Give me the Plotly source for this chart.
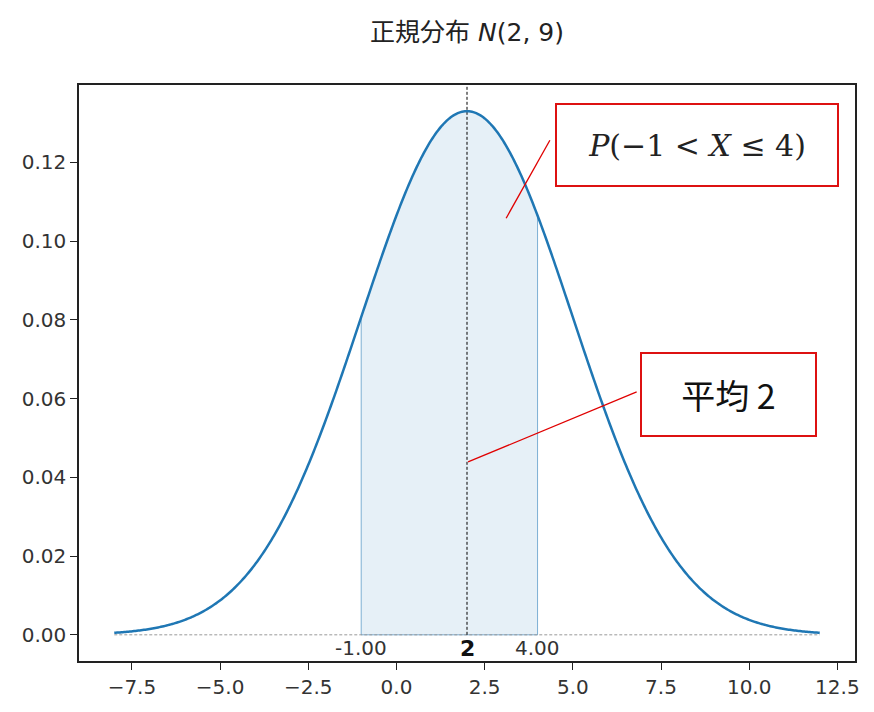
import numpy as np
import plotly.graph_objects as go

# distribution parameters (from title N(2, 9))
mu = 2.0
variance = 9.0
x_start, x_end = -8.0, 12.0
a_low, b_high = -1.0, 4.0
x_ticks = [-7.5, -5.0, -2.5, 0.0, 2.5, 5.0, 7.5, 10.0, 12.5]
y_ticks = [0.00, 0.02, 0.04, 0.06, 0.08, 0.10, 0.12]
bound_labels = ["-1.00", "4.00"]
mean_label = "2"
title_text = "正規分布 <i>N</i>(2, 9)"
prob_text = "<i>P</i>(−1 &lt; <i>X</i> ≤ 4)"
mean_text = "平均 2"

sigma = np.sqrt(variance)


def pdf(x):
    return np.exp(-(x - mu) ** 2 / (2 * variance)) / (sigma * np.sqrt(2 * np.pi))


x = np.linspace(x_start, x_end, 500)
y = pdf(x)
xf = np.linspace(a_low, b_high, 200)
yf = pdf(xf)

ymax = y.max()
yr = [-0.05 * ymax, 1.05 * ymax]
xr = [x_start - 0.05 * (x_end - x_start), x_end + 0.05 * (x_end - x_start)]

fig = go.Figure()
fig.add_trace(go.Scatter(
    x=np.concatenate([[a_low], xf, [b_high, a_low]]),
    y=np.concatenate([[0], yf, [0, 0]]),
    fill="toself", fillcolor="rgba(31,119,180,0.11)",
    line=dict(color="rgba(31,119,180,0.55)", width=1, simplify=False),
    mode="lines", hoverinfo="skip", showlegend=False))
fig.add_trace(go.Scatter(
    x=[x_start, x_end], y=[0, 0], mode="lines",
    line=dict(color="#999999", width=1, dash="3px,2px"), showlegend=False))
fig.add_trace(go.Scatter(
    x=[mu, mu], y=[0, yr[1]], mode="lines",
    line=dict(color="#000000", width=1, dash="3px,2px"), showlegend=False))
fig.add_trace(go.Scatter(
    x=x, y=y, mode="lines",
    line=dict(color="#1f77b4", width=2.5, simplify=False), showlegend=False))

# bound labels
for xv, lab in zip([a_low, b_high], bound_labels):
    fig.add_annotation(x=xv, y=0, xref="x", yref="y", text=lab, showarrow=False,
                       yshift=-13, font=dict(family="DejaVu Sans", size=20, color="#333333"))
fig.add_annotation(x=mu, y=0, xref="x", yref="y", text="<b>%s</b>" % mean_label, showarrow=False,
                   yshift=-14, font=dict(family="DejaVu Sans", size=22, color="#111111"))

# red leader lines
fig.add_shape(type="line", xref="x", yref="y", x0=3.11, y0=0.1058, x1=4.35, y1=0.1256,
              line=dict(color="#e00000", width=1.3))
fig.add_shape(type="line", xref="x", yref="y", x0=2.03, y0=0.0439, x1=6.81, y1=0.0617,
              line=dict(color="#e00000", width=1.3))

# boxed annotations
fig.add_annotation(x=8.52, y=0.1245, xref="x", yref="y", text=prob_text, showarrow=False,
                   width=280, height=80, borderpad=0, bordercolor="#dd1111", borderwidth=2,
                   bgcolor="white",
                   font=dict(family="DejaVu Serif", size=30, color="#222222"))
fig.add_annotation(x=9.415, y=0.0611, xref="x", yref="y", text=mean_text, showarrow=False,
                   width=173, height=81, borderpad=0, bordercolor="#dd1111", borderwidth=2,
                   bgcolor="white",
                   font=dict(family="Noto Sans CJK JP", size=34, color="#111111"))

axis_common = dict(showgrid=False, zeroline=False, showline=True, linecolor="#222222",
                   linewidth=1.5, mirror=True, ticks="outside", ticklen=7, tickwidth=1.3,
                   tickcolor="#222222",
                   tickfont=dict(family="DejaVu Sans", size=20, color="#333333"))
fig.update_xaxes(range=xr, tickvals=x_ticks,
                 ticktext=[("−%.1f" % -v) if v < 0 else "%.1f" % v for v in x_ticks],
                 **axis_common)
fig.update_yaxes(range=yr, tickvals=y_ticks, ticktext=["%.2f" % v for v in y_ticks],
                 **axis_common)

fig.update_layout(
    width=874, height=712,
    margin=dict(l=71, r=27, t=77, b=59),
    paper_bgcolor="white", plot_bgcolor="white",
    title=dict(text=title_text, x=0.5, xref="paper", xanchor="center",
               y=1 - 24 / 712, yanchor="middle",
               font=dict(family="DejaVu Sans, Noto Sans CJK JP", size=25, color="#222222")),
    showlegend=False,
)

fig.write_html("out.html")
